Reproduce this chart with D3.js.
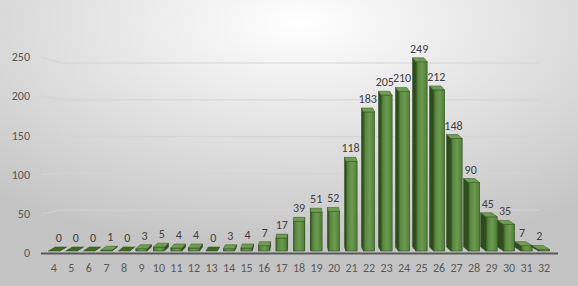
<!DOCTYPE html>
<html>
<head>
<meta charset="utf-8">
<script src="https://cdn.jsdelivr.net/npm/d3@7"></script>
<style>
  body { margin: 0; }
  text { font-family: Carlito, Lato, "Liberation Sans", sans-serif; }
</style>
</head>
<body>
<script>
const canvWidth = 578, canvHeight = 286;

const categories = ["4","5","6","7","8","9","10","11","12","13","14","15","16","17","18",
    "19","20","21","22","23","24","25","26","27","28","29","30","31","32"];
const counts = [0,0,0,1,0,3,5,4,4,0,3,4,7,17,39,51,52,118,183,205,210,249,212,148,90,45,35,7,2];
const yTicks = [0, 50, 100, 150, 200, 250];

const svg = d3.select("body").append("svg")
    .attr("width", canvWidth)
    .attr("height", canvHeight);

const defs = svg.append("defs");

const bg = defs.append("radialGradient")
    .attr("id", "bg")
    .attr("cx", "52%").attr("cy", "8%").attr("r", "80%");
bg.append("stop").attr("offset", "0%").attr("stop-color", "#ffffff");
bg.append("stop").attr("offset", "100%").attr("stop-color", "#c4c4c4");

const front = defs.append("linearGradient")
    .attr("id", "front")
    .attr("x1", "0%").attr("x2", "100%");
front.append("stop").attr("offset", "0%").attr("stop-color", "#3d6127");
front.append("stop").attr("offset", "20%").attr("stop-color", "#5a8a3f");
front.append("stop").attr("offset", "55%").attr("stop-color", "#6c9a50");
front.append("stop").attr("offset", "100%").attr("stop-color", "#4f7d36");

svg.append("rect")
    .attr("width", canvWidth)
    .attr("height", canvHeight)
    .attr("fill", "url(#bg)");

// scales: front plane (axis labels), bar plane, back wall (gridlines)
const xScale = d3.scaleBand().domain(categories).range([42, 556]).padding(0.36);
const yFront = d3.scaleLinear().domain([0, 250]).range([253, 57]);
const yBar = d3.scaleLinear().domain([0, 250]).range([251, 61]);
const yBack = d3.scaleLinear().domain([0, 250]).range([247, 63]);

const depthX = xc => (300 - xc) * 0.028;
const depthY = -4;

// gridlines on back wall, with slanted part on side wall
svg.append("g")
    .selectAll("path")
    .data(yTicks.filter(d => d > 0))
    .enter().append("path")
    .attr("d", d => `M42,${yFront(d)}L60,${yBack(d)}L540,${yBack(d)}`)
    .attr("fill", "none")
    .attr("stroke", "#d4d4d4")
    .attr("stroke-width", 1);

// y axis labels
svg.append("g")
    .selectAll("text")
    .data(yTicks)
    .enter().append("text")
    .attr("x", 30)
    .attr("y", d => yFront(d))
    .attr("dy", "0.35em")
    .attr("text-anchor", "end")
    .attr("font-size", "12px")
    .attr("fill", "#595959")
    .text(d => d);

// bars
const bars = svg.append("g")
    .selectAll("g")
    .data(categories.map((c, i) => ({cat: c, val: counts[i]})))
    .enter().append("g");

bars.each(function(d) {
    const g = d3.select(this);
    const x0 = xScale(d.cat), x1 = x0 + xScale.bandwidth();
    const xc = (x0 + x1) / 2;
    const dx = depthX(xc), dy = depthY;
    const t = yBar(d.val), b = yBar(0);
    const sx = dx < 0 ? x0 : x1;

    g.append("path")
        .attr("d", `M${sx},${t}L${sx + dx},${t + dy}L${sx + dx},${b + dy}L${sx},${b}Z`)
        .attr("fill", "#2f4d1c")
        .attr("stroke", "#2a4519")
        .attr("stroke-width", 0.5);
    if (b - t > 0.5) {
        g.append("rect")
            .attr("x", x0)
            .attr("y", t)
            .attr("width", x1 - x0)
            .attr("height", b - t)
            .attr("fill", "url(#front)")
            .attr("stroke", "#2f4f1f")
            .attr("stroke-width", 0.6);
    }
    g.append("path")
        .attr("d", `M${x0},${t}L${x1},${t}L${x1 + dx},${t + dy}L${x0 + dx},${t + dy}Z`)
        .attr("fill", d.val > 0 ? "#6f9d52" : "#3f6a22")
        .attr("stroke", "#33531f")
        .attr("stroke-width", 0.5);

    g.append("text")
        .attr("x", xc + dx * 0.7)
        .attr("y", t - 9)
        .attr("text-anchor", "middle")
        .attr("font-size", "12px")
        .attr("fill", "#404040")
        .text(d.val);
});

// floor line
svg.append("line")
    .attr("x1", 41).attr("x2", 558)
    .attr("y1", 253.5).attr("y2", 253.5)
    .attr("stroke", "#595959")
    .attr("stroke-width", 2);

// x axis labels
svg.append("g")
    .selectAll("text")
    .data(categories)
    .enter().append("text")
    .attr("x", d => xScale(d) + xScale.bandwidth() / 2)
    .attr("y", 268)
    .attr("dy", "0.35em")
    .attr("text-anchor", "middle")
    .attr("font-size", "12px")
    .attr("fill", "#595959")
    .text(d => d);
</script>
</body>
</html>
